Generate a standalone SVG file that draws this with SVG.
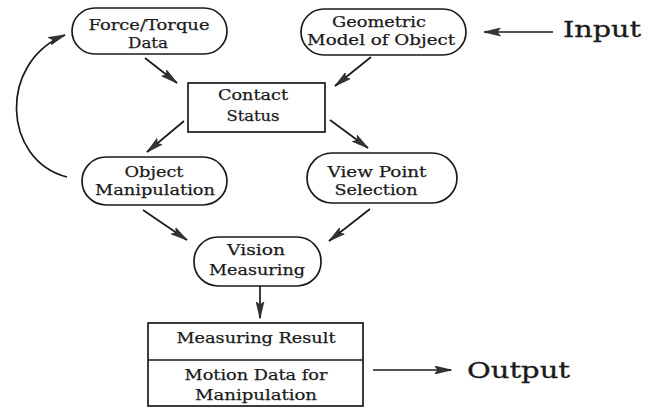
<svg xmlns="http://www.w3.org/2000/svg" width="659" height="408" viewBox="0 0 659 408">
  <style>
    .node { fill: #ffffff; stroke: #1a1a1a; stroke-width: 1.7; }
    .lbl { font-family: "DejaVu Serif", "Liberation Serif", serif; font-size: 15.5px; fill: #1a1a1a; stroke: #1a1a1a; stroke-width: 0.25; text-anchor: middle; }
    .big { font-family: "DejaVu Serif", "Liberation Serif", serif; font-size: 22px; fill: #1a1a1a; stroke: #1a1a1a; stroke-width: 0.3; }
    .conn { fill: none; stroke: #1a1a1a; stroke-width: 1.7; }
  </style>
  <defs>
    <marker id="head" viewBox="0 0 17 9" refX="16.5" refY="4.5" markerWidth="17" markerHeight="9" markerUnits="userSpaceOnUse" orient="auto">
      <path d="M0,0.5 L17,4.5 L0,8.5 L3.5,4.5 Z" fill="#333333" stroke="#1a1a1a" stroke-width="0.6"/>
    </marker>
  </defs>
  <rect width="659" height="408" fill="#ffffff"/>

  <g id="force-torque">
    <rect class="node" x="72" y="8" width="155" height="46" rx="23"/>
    <text class="lbl" x="149" y="30" textLength="121" lengthAdjust="spacingAndGlyphs">Force/Torque</text>
    <text class="lbl" x="148" y="48" textLength="40" lengthAdjust="spacingAndGlyphs">Data</text>
  </g>

  <g id="geometric-model">
    <rect class="node" x="301" y="9" width="165" height="46" rx="23"/>
    <text class="lbl" x="379" y="27" textLength="94" lengthAdjust="spacingAndGlyphs">Geometric</text>
    <text class="lbl" x="381" y="45" textLength="148" lengthAdjust="spacingAndGlyphs">Model of Object</text>
  </g>

  <g id="contact-status">
    <rect class="node" x="188" y="83" width="137" height="49"/>
    <text class="lbl" x="253" y="100" textLength="70" lengthAdjust="spacingAndGlyphs">Contact</text>
    <text class="lbl" x="253" y="121" textLength="53" lengthAdjust="spacingAndGlyphs">Status</text>
  </g>

  <g id="object-manipulation">
    <rect class="node" x="82" y="157" width="145" height="48" rx="24"/>
    <text class="lbl" x="154" y="177" textLength="59" lengthAdjust="spacingAndGlyphs">Object</text>
    <text class="lbl" x="155" y="195" textLength="120" lengthAdjust="spacingAndGlyphs">Manipulation</text>
  </g>

  <g id="view-point">
    <rect class="node" x="307" y="153" width="150" height="50" rx="25"/>
    <text class="lbl" x="377" y="177" textLength="99" lengthAdjust="spacingAndGlyphs">View Point</text>
    <text class="lbl" x="376" y="195" textLength="83" lengthAdjust="spacingAndGlyphs">Selection</text>
  </g>

  <g id="vision-measuring">
    <rect class="node" x="194" y="237" width="127" height="49" rx="24"/>
    <text class="lbl" x="256" y="255" textLength="58" lengthAdjust="spacingAndGlyphs">Vision</text>
    <text class="lbl" x="257" y="275" textLength="96" lengthAdjust="spacingAndGlyphs">Measuring</text>
  </g>

  <g id="result">
    <rect class="node" x="148" y="323" width="215" height="83"/>
    <line class="node" x1="148" y1="360" x2="363" y2="360"/>
    <text class="lbl" x="256" y="343" textLength="159" lengthAdjust="spacingAndGlyphs">Measuring Result</text>
    <text class="lbl" x="256" y="380" textLength="143" lengthAdjust="spacingAndGlyphs">Motion Data for</text>
    <text class="lbl" x="256" y="400" textLength="122" lengthAdjust="spacingAndGlyphs">Manipulation</text>
  </g>

  <g id="input-label">
    <text class="big" x="563" y="37" textLength="78" lengthAdjust="spacingAndGlyphs">Input</text>
  </g>
  <g id="output-label">
    <text class="big" x="467" y="378" textLength="103" lengthAdjust="spacingAndGlyphs">Output</text>
  </g>

  <g id="connectors">
    <line class="conn" x1="553" y1="32" x2="484" y2="32" marker-end="url(#head)"/>
    <line class="conn" x1="145" y1="58" x2="177" y2="83" marker-end="url(#head)"/>
    <line class="conn" x1="371" y1="57" x2="335" y2="86" marker-end="url(#head)"/>
    <line class="conn" x1="184" y1="121" x2="147" y2="152" marker-end="url(#head)"/>
    <line class="conn" x1="330" y1="120" x2="368" y2="148" marker-end="url(#head)"/>
    <line class="conn" x1="143" y1="210" x2="187" y2="240" marker-end="url(#head)"/>
    <line class="conn" x1="370" y1="209" x2="329" y2="241" marker-end="url(#head)"/>
    <line class="conn" x1="260" y1="286" x2="260" y2="318" marker-end="url(#head)"/>
    <line class="conn" x1="373" y1="370" x2="451" y2="370" marker-end="url(#head)"/>
    <path class="conn" d="M67,177 C2,160 -2,62 65,35" marker-end="url(#head)"/>
  </g>
</svg>
